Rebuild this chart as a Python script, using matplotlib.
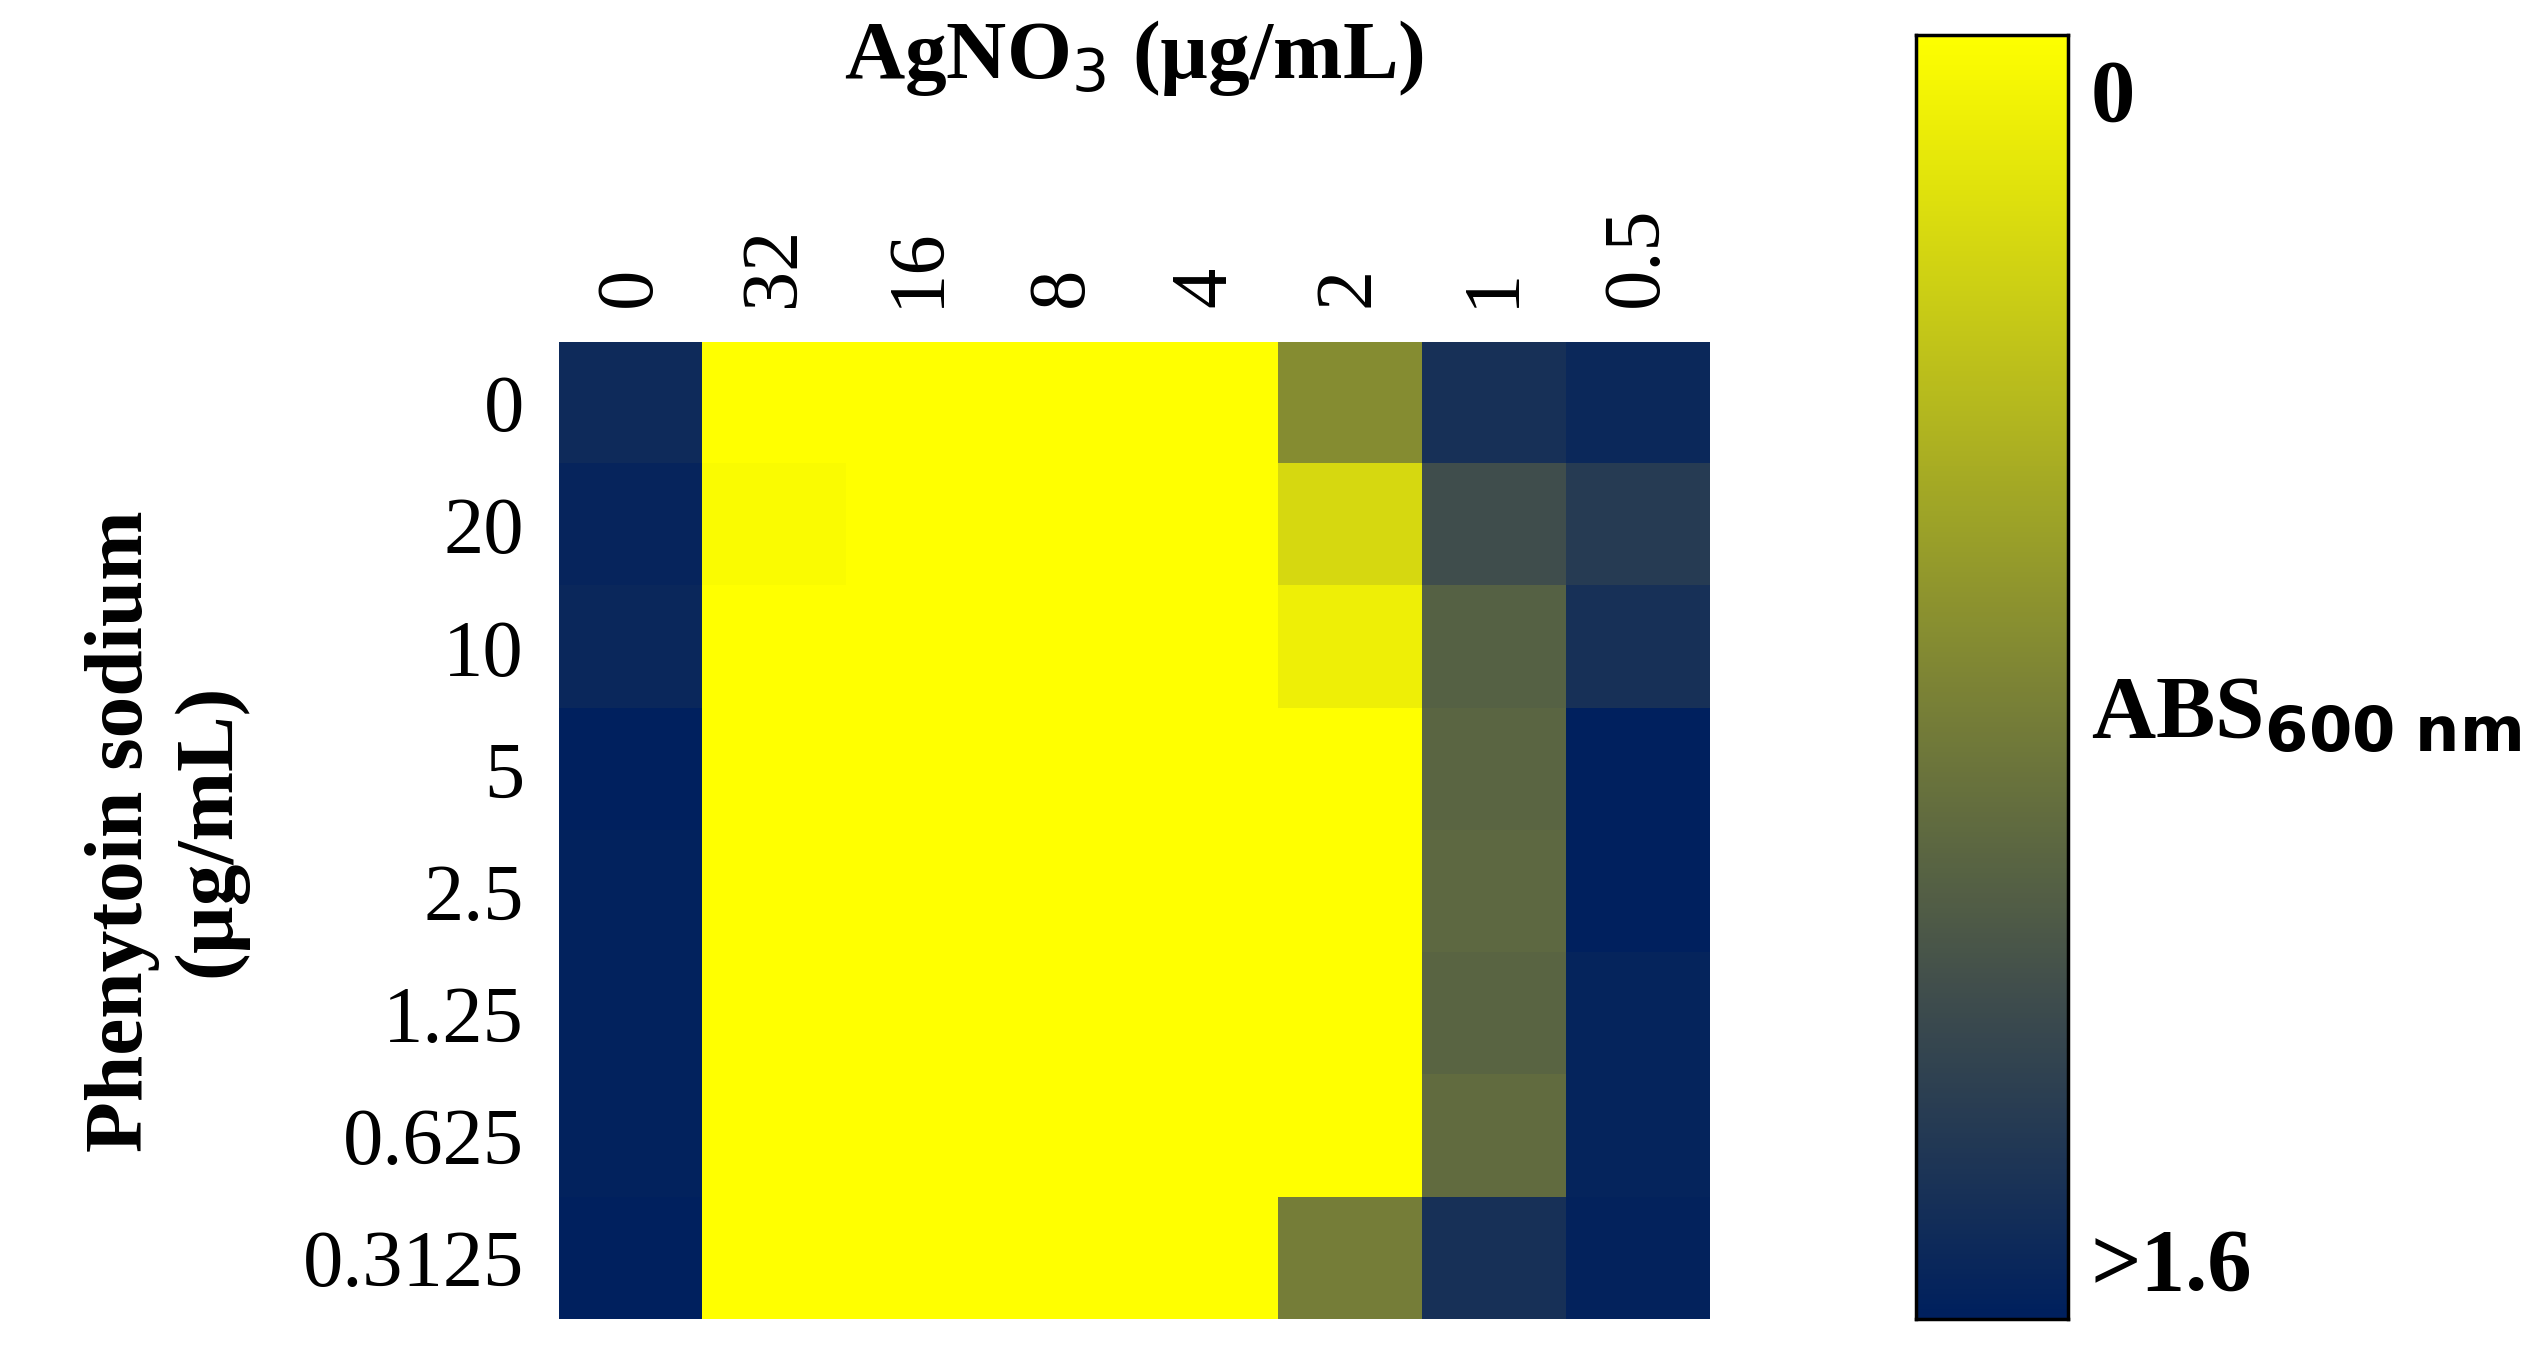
import matplotlib
matplotlib.use("Agg")
import matplotlib.pyplot as plt
import numpy as np
from matplotlib.colors import LinearSegmentedColormap

agno3 = ["0", "32", "16", "8", "4", "2", "1", "0.5"]
phenytoin = ["0", "20", "10", "5", "2.5", "1.25", "0.625", "0.3125"]
abs_vals = [
    [1.50, 0.00, 0.00, 0.00, 0.00, 0.75, 1.45, 1.52],
    [1.55, 0.03, 0.00, 0.00, 0.00, 0.25, 1.20, 1.35],
    [1.53, 0.00, 0.00, 0.00, 0.00, 0.10, 1.05, 1.45],
    [1.62, 0.00, 0.00, 0.00, 0.00, 0.00, 1.02, 1.60],
    [1.58, 0.00, 0.00, 0.00, 0.00, 0.00, 1.00, 1.62],
    [1.58, 0.00, 0.00, 0.00, 0.00, 0.00, 1.03, 1.56],
    [1.58, 0.00, 0.00, 0.00, 0.00, 0.00, 0.98, 1.56],
    [1.60, 0.00, 0.00, 0.00, 0.00, 0.85, 1.45, 1.57],
]

cmap = LinearSegmentedColormap.from_list(
    "c", [(0, "#ffff00"), (0.5, "#7e8535"), (0.75, "#3f4d4d"), (1, "#00205e")])

plt.rcParams['font.family'] = ['Liberation Serif', 'DejaVu Serif']
fig = plt.figure(figsize=(25.28, 13.63), dpi=100)
ax = fig.add_axes([0.221, 0.032, 0.455, 0.717])
data = np.array(abs_vals)
im = ax.imshow(data, cmap=cmap, vmin=0, vmax=1.6, aspect="auto")
ax.set_xticks(range(len(agno3)))
ax.set_xticklabels(agno3, rotation=90, fontsize=58)
ax.xaxis.tick_top()
ax.set_yticks(range(len(phenytoin)))
ax.set_yticklabels(phenytoin, fontsize=58)
ax.tick_params(length=0, pad=25)
for s in ax.spines.values():
    s.set_visible(False)
ax.set_title("AgNO$_3$ (µg/mL)", fontsize=60, fontweight="bold", pad=190)
ax.set_ylabel("Phenytoin sodium\n(µg/mL)", fontsize=60, fontweight="bold", labelpad=40)

cax = fig.add_axes([0.758, 0.032, 0.060, 0.942])
grad = np.linspace(0, 1.6, 256).reshape(-1, 1)
cax.imshow(grad, cmap=cmap, vmin=0, vmax=1.6, aspect="auto", extent=[0, 1, 1.6, 0])
cax.set_xticks([])
cax.set_yticks([])
for s in cax.spines.values():
    s.set_linewidth(2.5)
cax.text(1.15, 0.95, "0", transform=cax.transAxes, fontsize=64, fontweight="bold", va="center")
cax.text(1.15, 0.47, "ABS$_{\\mathbf{600\\ nm}}$", transform=cax.transAxes, fontsize=64, fontweight="bold", va="center")
cax.text(1.15, 0.04, ">1.6", transform=cax.transAxes, fontsize=64, fontweight="bold", va="center")

fig.savefig("out.png", dpi=100)
